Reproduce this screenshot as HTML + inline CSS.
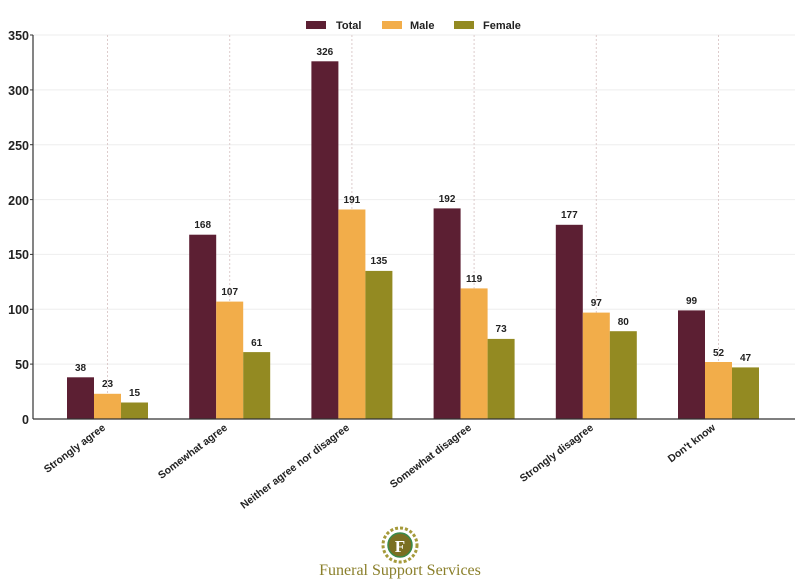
<!DOCTYPE html>
<html><head><meta charset="utf-8"><style>body{margin:0;background:#fff}svg{display:block}text{font-family:"Liberation Sans",sans-serif;font-weight:bold;fill:#222}</style></head><body>
<svg width="800" height="588" viewBox="0 0 800 588" xmlns="http://www.w3.org/2000/svg">
<g stroke="#eee" stroke-width="1">
<line x1="33" y1="364.1" x2="795" y2="364.1"/><line x1="33" y1="309.3" x2="795" y2="309.3"/><line x1="33" y1="254.4" x2="795" y2="254.4"/><line x1="33" y1="199.6" x2="795" y2="199.6"/><line x1="33" y1="144.7" x2="795" y2="144.7"/><line x1="33" y1="89.9" x2="795" y2="89.9"/><line x1="33" y1="35" x2="795" y2="35"/>
</g>
<g stroke="#dcc" stroke-width="1" stroke-dasharray="2,2">
<line x1="107.5" y1="35" x2="107.5" y2="419"/><line x1="229.7" y1="35" x2="229.7" y2="419"/><line x1="351.9" y1="35" x2="351.9" y2="419"/><line x1="474.1" y1="35" x2="474.1" y2="419"/><line x1="596.3" y1="35" x2="596.3" y2="419"/><line x1="718.5" y1="35" x2="718.5" y2="419"/>
</g>
<g fill="#5c1f33">
<rect x="67" y="377.3" width="27" height="41.7"/><rect x="189.2" y="234.7" width="27" height="184.3"/><rect x="311.4" y="61.3" width="27" height="357.7"/><rect x="433.6" y="208.4" width="27" height="210.6"/><rect x="555.8" y="224.8" width="27" height="194.2"/><rect x="678" y="310.4" width="27" height="108.6"/>
</g>
<g fill="#f2ad4a">
<rect x="94" y="393.8" width="27" height="25.2"/><rect x="216.2" y="301.6" width="27" height="117.4"/><rect x="338.4" y="209.5" width="27" height="209.5"/><rect x="460.6" y="288.4" width="27" height="130.6"/><rect x="582.8" y="312.6" width="27" height="106.4"/><rect x="705" y="362" width="27" height="57"/>
</g>
<g fill="#938a22">
<rect x="121" y="402.5" width="27" height="16.5"/><rect x="243.2" y="352.1" width="27" height="66.9"/><rect x="365.4" y="270.9" width="27" height="148.1"/><rect x="487.6" y="338.9" width="27" height="80.1"/><rect x="609.8" y="331.2" width="27" height="87.8"/><rect x="732" y="367.4" width="27" height="51.6"/>
</g>
<g font-size="10" text-anchor="middle">
<text x="80.5" y="371">38</text><text x="107.5" y="387">23</text><text x="134.5" y="396">15</text>
<text x="202.7" y="228">168</text><text x="229.7" y="295">107</text><text x="256.7" y="346">61</text>
<text x="324.9" y="55">326</text><text x="351.9" y="203">191</text><text x="378.9" y="264">135</text>
<text x="447.1" y="202">192</text><text x="474.1" y="282">119</text><text x="501.1" y="332">73</text>
<text x="569.3" y="218">177</text><text x="596.3" y="306">97</text><text x="623.3" y="325">80</text>
<text x="691.5" y="304">99</text><text x="718.5" y="356">52</text><text x="745.5" y="361">47</text>
</g>
<line x1="33" y1="35" x2="33" y2="419" stroke="#333" stroke-width="1.2"/>
<line x1="33" y1="419" x2="795" y2="419" stroke="#333" stroke-width="1.2"/>
<g stroke="#333"><line x1="30" y1="35" x2="33" y2="35"/><line x1="30" y1="89.9" x2="33" y2="89.9"/><line x1="30" y1="144.7" x2="33" y2="144.7"/><line x1="30" y1="199.6" x2="33" y2="199.6"/><line x1="30" y1="254.4" x2="33" y2="254.4"/><line x1="30" y1="309.3" x2="33" y2="309.3"/><line x1="30" y1="364.1" x2="33" y2="364.1"/></g>
<g font-size="12.5" text-anchor="end">
<text x="29" y="40">350</text><text x="29" y="95">300</text><text x="29" y="150">250</text><text x="29" y="205">200</text><text x="29" y="259">150</text><text x="29" y="314">100</text><text x="29" y="369">50</text><text x="29" y="424">0</text>
</g>
<g font-size="10.5" text-anchor="end">
<text transform="translate(106,429) rotate(-37)">Strongly agree</text>
<text transform="translate(228,429) rotate(-37)">Somewhat agree</text>
<text transform="translate(350,429) rotate(-37)">Neither agree nor disagree</text>
<text transform="translate(472,429) rotate(-37)">Somewhat disagree</text>
<text transform="translate(594,429) rotate(-37)">Strongly disagree</text>
<text transform="translate(716,429) rotate(-37)">Don't know</text>
</g>
<rect x="306" y="21" width="20" height="8" fill="#5c1f33"/><text x="336" y="29" font-size="11">Total</text>
<rect x="382" y="21" width="20" height="8" fill="#f2ad4a"/><text x="410" y="29" font-size="11">Male</text>
<rect x="454" y="21" width="20" height="8" fill="#938a22"/><text x="483" y="29" font-size="11">Female</text>
<circle cx="400" cy="545" r="17" fill="none" stroke="#a59a3a" stroke-width="3" stroke-dasharray="3,2"/>
<circle cx="400" cy="545" r="12" fill="#7a6f22" stroke="#3a8a4a" stroke-width="1.5"/>
<text x="400" y="552" font-size="17" text-anchor="middle" style="font-family:'Liberation Serif',serif;fill:#fff">F</text>
<text x="400" y="575" font-size="16" text-anchor="middle" style="font-family:'Liberation Serif',serif;font-weight:normal;fill:#8a7f2a">Funeral Support Services</text>
</svg>
</body></html>
